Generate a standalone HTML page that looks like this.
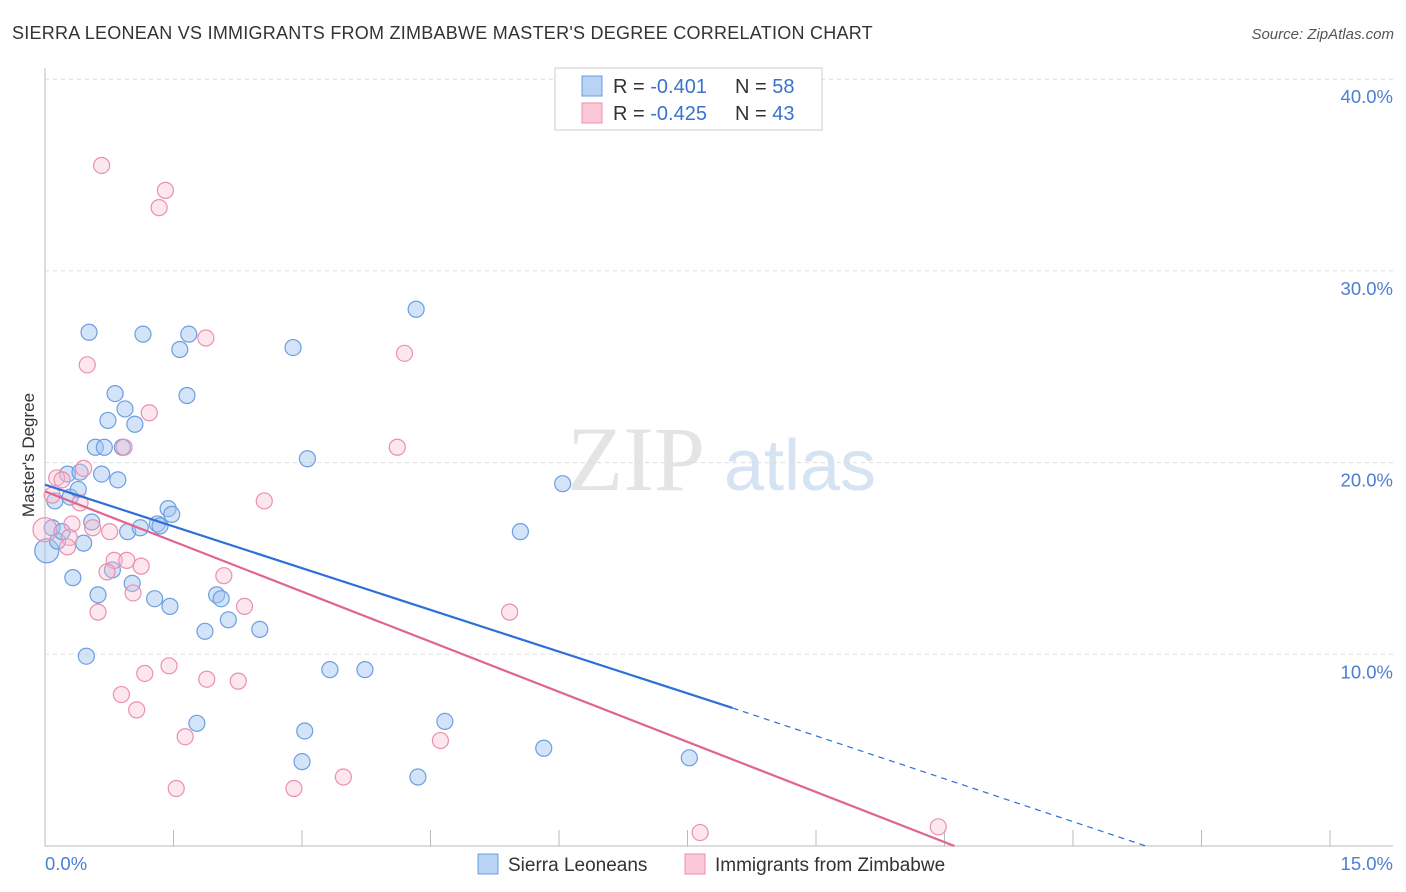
<!DOCTYPE html>
<html><head><meta charset="utf-8"><style>
body{margin:0;background:#fff;font-family:"Liberation Sans",sans-serif}
svg{display:block}
</style></head><body>
<svg id="c" width="1406" height="892" xmlns="http://www.w3.org/2000/svg">
<text x="12" y="39" font-size="18" fill="#333" letter-spacing="0.25">SIERRA LEONEAN VS IMMIGRANTS FROM ZIMBABWE MASTER'S DEGREE CORRELATION CHART</text>
<text x="1394" y="39" font-size="15" fill="#555" font-style="italic" text-anchor="end">Source: ZipAtlas.com</text>
<text x="34" y="455" font-size="17" fill="#333" text-anchor="middle" transform="rotate(-90 34 455)">Master's Degree</text>
<g><text x="636" y="490" font-size="92" fill="#e4e4e4" font-family="Liberation Serif,serif" text-anchor="middle">ZIP</text><text x="800" y="490" font-size="72" fill="#d6e3f3" text-anchor="middle">atlas</text></g>
<g id="grid"></g><g id="pts"></g><g id="lines"></g>
<g>
<rect x="555" y="68" width="267" height="62" fill="#fff" stroke="#ccc"/>
<rect x="582" y="76" width="20" height="20" fill="#b9d3f5" stroke="#6c9ee0"/>
<rect x="582" y="103" width="20" height="20" fill="#fbc8d7" stroke="#ec8fae"/>
<text x="613" y="93" font-size="20" fill="#333">R = <tspan fill="#3a73cf">-0.401</tspan></text>
<text x="735" y="93" font-size="20" fill="#333">N = <tspan fill="#3a73cf">58</tspan></text>
<text x="613" y="120" font-size="20" fill="#333">R = <tspan fill="#3a73cf">-0.425</tspan></text>
<text x="735" y="120" font-size="20" fill="#333">N = <tspan fill="#3a73cf">43</tspan></text>
</g>
<g>
<rect x="478" y="854" width="20" height="20" fill="#b9d3f5" stroke="#6c9ee0"/>
<text x="508" y="871" font-size="19" fill="#333">Sierra Leoneans</text>
<rect x="685" y="854" width="20" height="20" fill="#fbc8d7" stroke="#ec8fae"/>
<text x="715" y="871" font-size="19" fill="#333">Immigrants from Zimbabwe</text>
</g>
</svg>
<script>
const xTicks=[0,15];
const yTicks=[10,20,30,40];
const blueX=[0.02,0.08,0.11,0.14,0.19,0.25,0.28,0.31,0.37,0.39,0.43,0.46,0.49,0.52,0.56,0.59,0.63,0.66,0.70,0.75,0.78,0.81,0.86,0.89,0.92,0.97,1.00,1.06,1.09,1.22,1.25,1.28,1.37,1.39,1.41,1.50,1.58,1.60,1.69,1.78,1.91,1.96,2.04,2.39,2.76,2.86,2.89,2.92,3.17,3.56,4.13,4.15,4.45,5.29,5.55,5.76,7.17];
const blueY=[15.4,16.6,18.0,15.9,16.4,19.4,18.2,14.0,18.6,19.5,15.8,9.9,26.8,16.9,20.8,13.1,19.4,20.8,22.2,14.4,23.6,19.1,20.8,22.8,16.4,13.7,22.0,16.6,26.7,12.9,16.8,16.7,17.6,12.5,17.3,25.9,23.5,26.7,6.4,11.2,13.1,12.9,11.8,11.3,26.0,4.4,6.0,20.2,9.2,9.2,28.0,3.6,6.5,16.4,5.1,18.9,4.6];
const pinkX=[0.63,1.34,1.27,0.47,1.79,4.00,1.16,3.92,0.88,0.43,0.13,0.19,0.08,0.39,2.44,0.53,0.30,0.72,0.27,0.25,0.77,0.91,1.07,0.69,1.99,0.98,0.59,2.22,5.17,1.38,1.11,1.80,2.15,0.85,1.02,1.56,4.40,3.32,1.46,2.77,7.29,9.94,0.0];
const pinkY=[35.5,34.2,33.3,25.1,26.5,25.7,22.6,20.8,20.8,19.7,19.2,19.1,18.3,17.9,18.0,16.6,16.8,16.4,16.1,15.6,14.9,14.9,14.6,14.3,14.1,13.2,12.2,12.5,12.2,9.4,9.0,8.7,8.6,7.9,7.1,5.7,5.5,3.6,3.0,3.0,0.7,1.0,16.5];
const X=v=>45+v/15*1348, Y=v=>846-v*19.17;
const ns='http://www.w3.org/2000/svg';
function mk(t,a,p){const e=document.createElementNS(ns,t);for(const k in a)e.setAttribute(k,a[k]);p.appendChild(e);return e;}
const g=document.getElementById('grid');
mk('line',{x1:45,y1:68,x2:45,y2:846,stroke:'#bbb'},g);
mk('line',{x1:45,y1:846,x2:1393,y2:846,stroke:'#bbb'},g);
for(let i=1;i<=10;i++){mk('line',{x1:45+i*128.5,y1:830,x2:45+i*128.5,y2:846,stroke:'#bbb'},g);}
yTicks.forEach(v=>{const l=mk('line',{x1:45,y1:Y(v),x2:1393,y2:Y(v),stroke:'#ddd','stroke-dasharray':'4,4'},g);


const t=mk('text',{x:1393,y:Y(v)+24,'font-size':18.5,fill:'#4a7fd4','text-anchor':'end'},g);t.textContent=v.toFixed(1)+'%';

});
xTicks.forEach((v,i)=>{const t=mk('text',{x:i?1393:45,y:870,'font-size':18.5,fill:'#4a7fd4','text-anchor':i?'end':'start'},g);t.textContent=v.toFixed(1)+'%';

});
const p=document.getElementById('pts');
blueX.forEach((v,i)=>{const c=mk('circle',{cx:X(v),cy:Y(blueY[i]),r:i==0?12:8,fill:'rgba(160,195,240,0.45)',stroke:'#6c9ee0','stroke-width':1.2},p);

});
pinkX.forEach((v,i)=>{const c=mk('circle',{cx:X(v),cy:Y(pinkY[i]),r:i==42?12:8,fill:'rgba(250,185,205,0.35)',stroke:'#ec8fae','stroke-width':1.2},p);

});
const L=document.getElementById('lines');
const bl=mk('line',{x1:X(0),y1:Y(18.85),x2:X(7.65),y2:Y(7.2),stroke:'#2f6fd6','stroke-width':2.2},L);


const bd=mk('line',{x1:X(7.65),y1:Y(7.2),x2:X(12.25),y2:Y(0),stroke:'#2f6fd6','stroke-width':1.2,'stroke-dasharray':'6,5'},L);


const pl=mk('line',{x1:X(0),y1:Y(18.5),x2:X(10.12),y2:Y(0),stroke:'#e0648f','stroke-width':2.2},L);


</script>
</body></html>
